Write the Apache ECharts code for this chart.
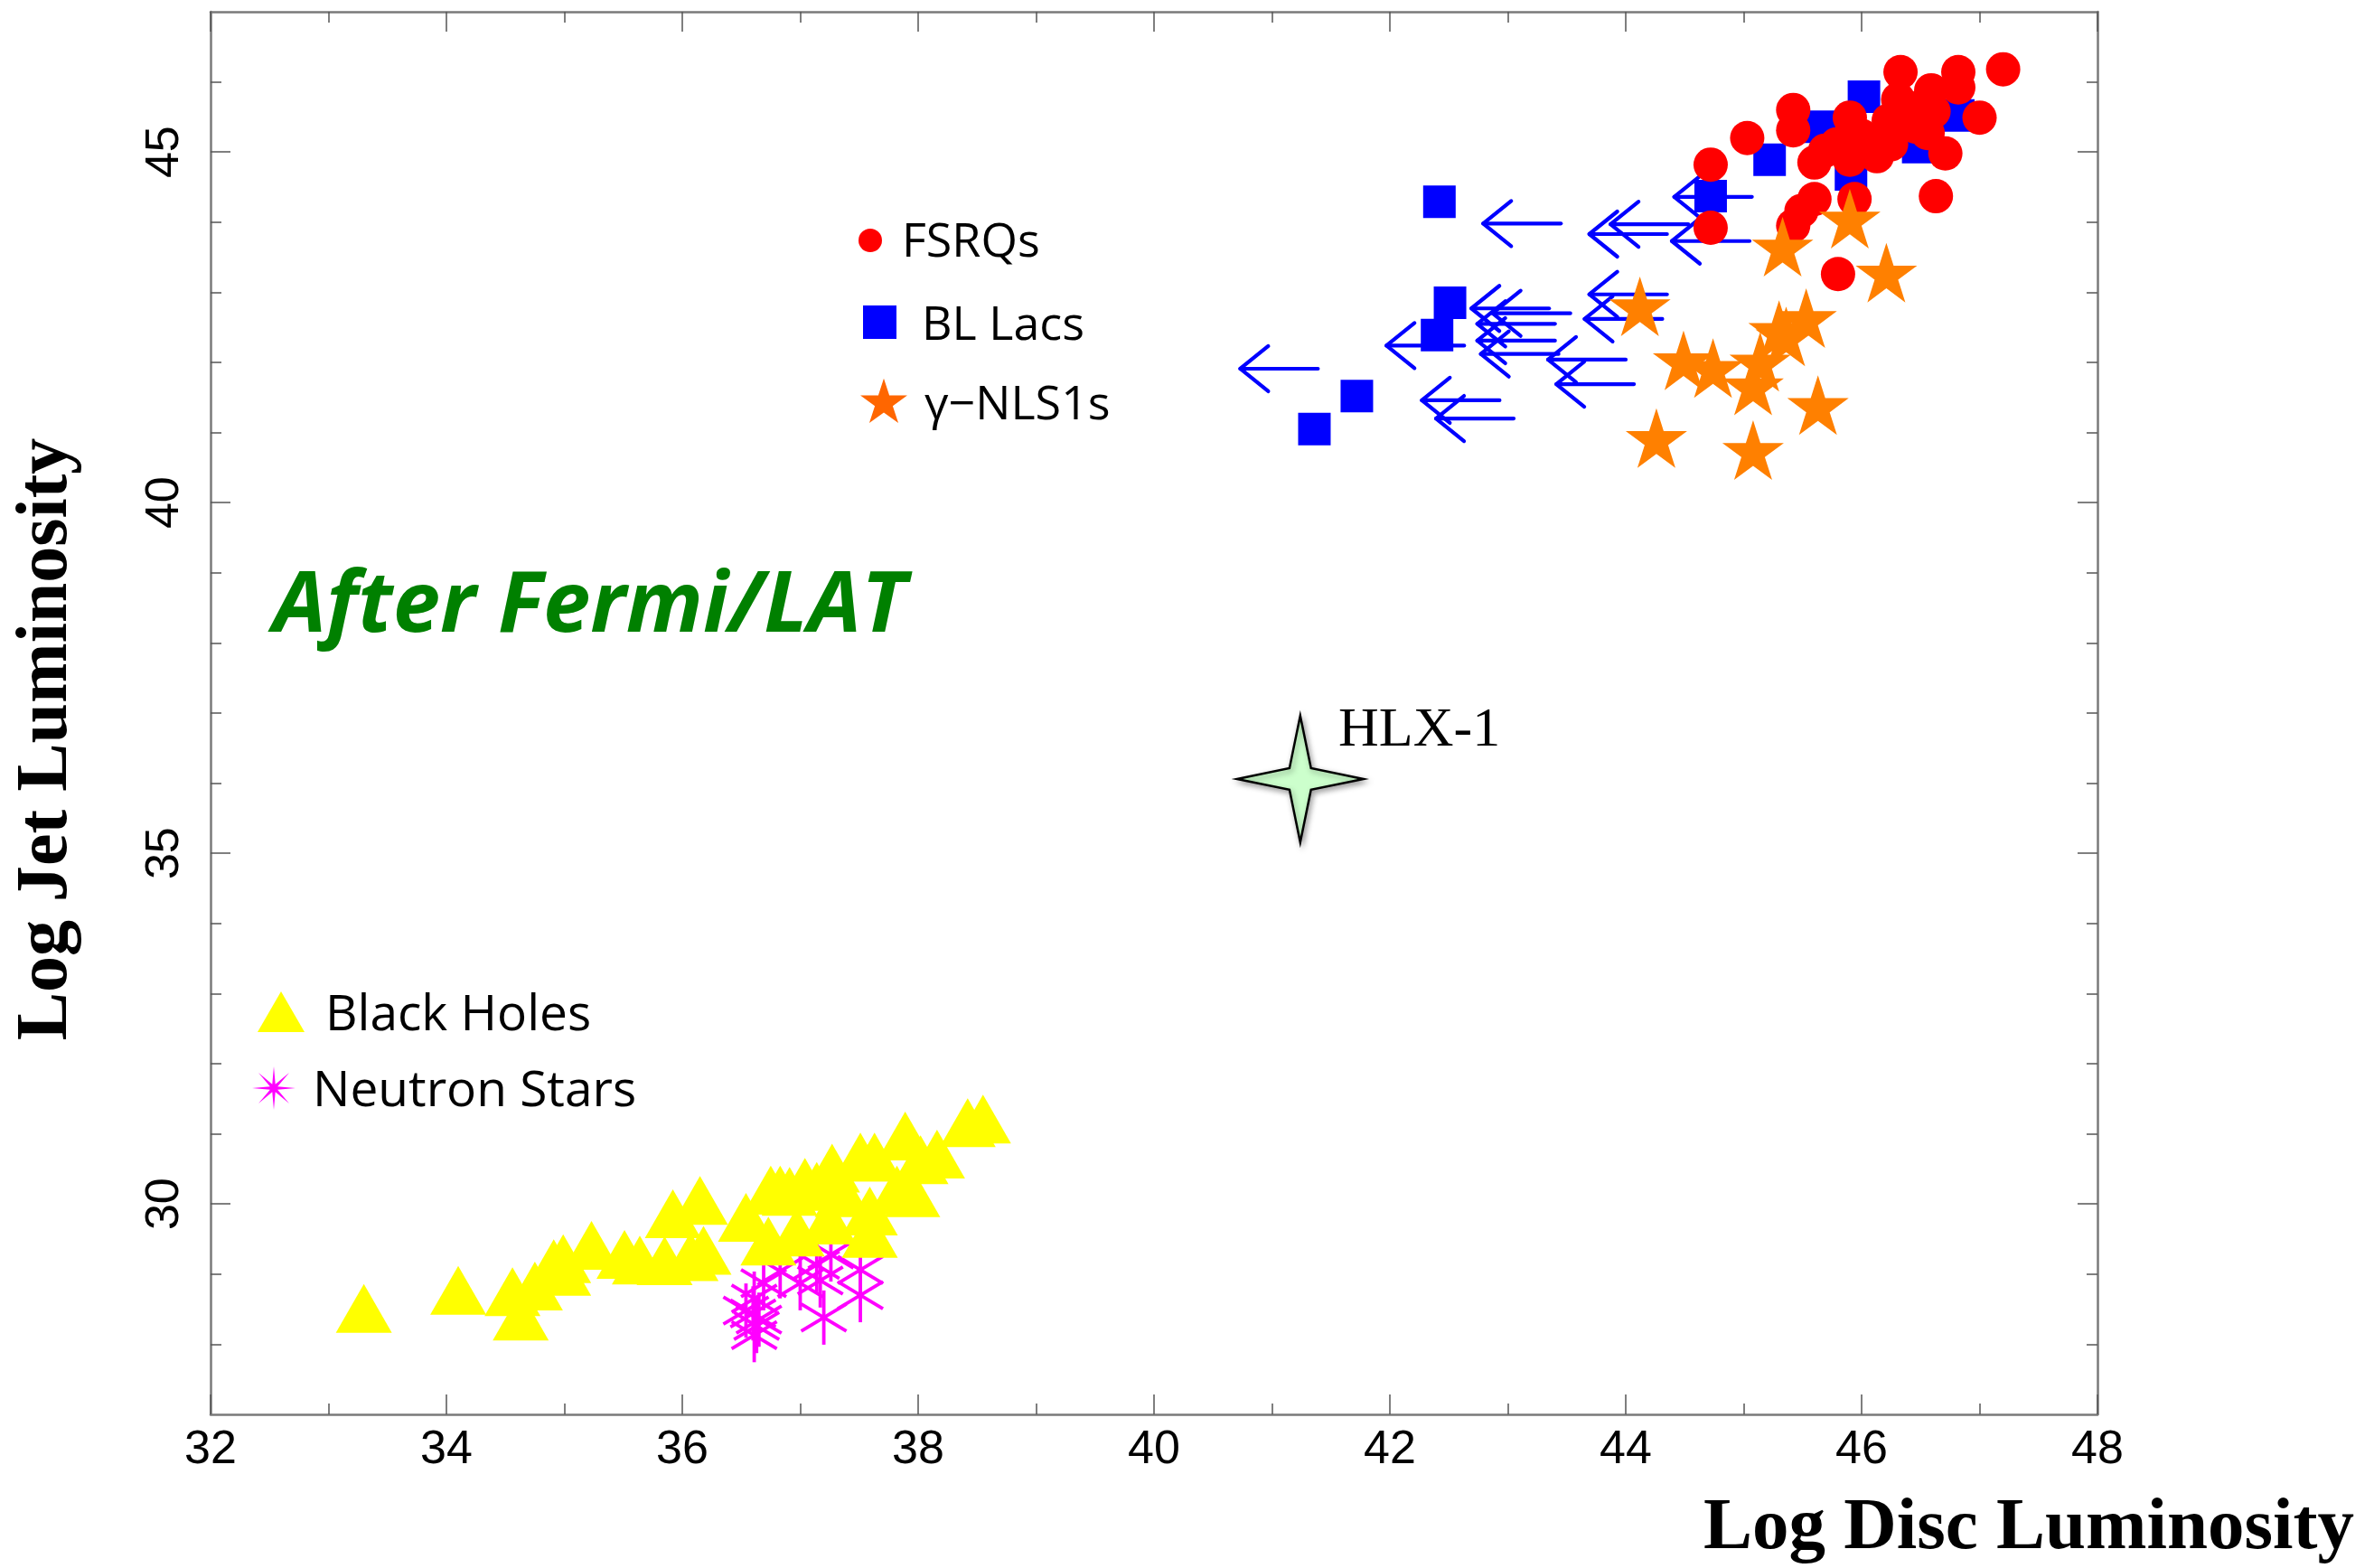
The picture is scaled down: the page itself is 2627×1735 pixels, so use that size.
<!DOCTYPE html>
<html>
<head>
<meta charset="utf-8">
<title>Log Jet Luminosity vs Log Disc Luminosity</title>
<script src="https://cdn.jsdelivr.net/npm/echarts@6/dist/echarts.min.js"></script>
<style>
  html, body { margin: 0; padding: 0; background: #ffffff; }
  #chart { width: 2627px; height: 1735px; }
</style>
</head>
<body>
<div id="chart"></div>
<script>
// [log L_disc, log L_jet] for each source class
const fsrqs = [
  [44.72, 44.82], [45.03, 45.20], [45.42, 45.60], [45.42, 45.31], [44.72, 43.92],
  [45.60, 44.85], [45.90, 45.49], [45.60, 44.33], [45.49, 44.16], [45.42, 43.95],
  [45.94, 44.33], [46.63, 44.37], [46.33, 46.14], [46.82, 46.14], [47.20, 46.18],
  [47.00, 45.49], [46.71, 44.98], [46.59, 45.88], [46.31, 45.75], [46.13, 45.14],
  [46.13, 44.94], [46.46, 45.36], [45.90, 44.89], [45.69, 45.02], [46.82, 45.92],
  [46.44, 45.62], [46.61, 45.58], [46.23, 45.45], [46.00, 45.23], [45.79, 45.11],
  [46.25, 45.11], [46.56, 45.27], [45.80, 43.26]
];
const blLacs = [
  [42.42, 44.29], [42.51, 42.85], [42.40, 42.39], [41.72, 41.52], [41.36, 41.05],
  [44.72, 44.37], [45.22, 44.89], [45.64, 45.36], [46.02, 45.79], [45.91, 44.68],
  [46.48, 45.07], [46.82, 45.52]
];
// BL Lacs with only an upper limit on the disc luminosity
const blLacLimits = [
  [43.45, 43.98], [44.35, 43.83], [44.53, 43.97], [45.05, 43.73], [45.07, 44.36],
  [44.35, 42.97], [44.31, 42.62], [44.00, 42.04], [44.07, 41.69], [43.35, 42.77],
  [43.53, 42.70], [43.40, 42.55], [43.40, 42.31], [43.43, 42.12], [42.63, 42.24],
  [41.39, 41.91], [42.93, 41.46], [43.05, 41.20]
];
const nls1s = [
  [44.12, 42.80], [44.49, 42.03], [44.74, 41.92], [45.08, 41.67], [45.14, 42.01],
  [45.30, 42.46], [45.36, 42.37], [45.53, 42.63], [45.63, 41.39], [44.26, 40.92],
  [45.08, 40.75], [45.33, 43.65], [45.90, 44.05], [46.21, 43.28]
];
const blackHoles = [
  [33.30, 28.51], [34.10, 28.77], [34.56, 28.75], [34.63, 28.40], [34.75, 28.83],
  [34.91, 29.15], [34.99, 29.22], [34.99, 29.04], [35.23, 29.41], [35.51, 29.28],
  [35.64, 29.20], [35.85, 29.19], [35.92, 29.86], [36.07, 29.25], [36.15, 30.05],
  [36.18, 29.34], [36.54, 29.81], [36.73, 29.47], [36.75, 30.20], [36.83, 30.20],
  [36.91, 30.18], [36.97, 29.60], [37.04, 30.31], [37.14, 30.25], [37.24, 29.77],
  [37.27, 30.51], [37.36, 30.16], [37.51, 30.67], [37.59, 29.58], [37.59, 29.90],
  [37.63, 30.67], [37.82, 30.20], [37.89, 30.97], [37.95, 30.16], [38.02, 30.63],
  [38.16, 30.71], [38.42, 31.16], [38.55, 31.21]
];
const neutronStars = [
  [37.20, 28.38], [37.51, 28.70], [37.51, 29.06], [37.26, 29.28], [37.14, 29.13],
  [37.00, 28.87], [36.83, 29.04], [36.69, 28.87], [36.61, 28.65], [36.60, 28.44],
  [36.63, 28.26], [36.61, 28.13], [36.54, 28.48], [37.17, 28.91], [36.65, 28.35]
];
const hlx1 = [[41.24, 36.06]];

// axis ranges and tick values
const xRange = [32, 48];
const yRange = [27, 47];
const yMajorTicks = [30, 35, 40, 45];
const yMinorTicks = [28, 29, 31, 32, 33, 34, 36, 37, 38, 39, 41, 42, 43, 44, 46];

const PENTAGRAM = 'path://M0,-1 L0.2245,-0.309 L0.951,-0.309 L0.363,0.118 L0.588,0.809 L0,0.382 L-0.588,0.809 L-0.363,0.118 L-0.951,-0.309 L-0.2245,-0.309 Z';
const FOUR_POINT = 'path://M0,-1 L0.17,-0.17 L1,0 L0.17,0.17 L0,1 L-0.17,0.17 L-1,0 L-0.17,-0.17 Z';

const AXIS_LINE = { show: true, onZero: false, lineStyle: { color: '#7a7a7a', width: 2.5 } };
const TICK_STYLE = { color: '#555555', width: 1.5 };

function starPoints(cx, cy, rOuter, rInner, n) {
  const pts = [];
  for (let i = 0; i < 2 * n; i++) {
    const r = i % 2 === 0 ? rOuter : rInner;
    const a = -Math.PI / 2 + i * Math.PI / n;
    pts.push([cx + r * Math.cos(a), cy + r * Math.sin(a)]);
  }
  return pts;
}

function xAxisDef(position, showLabel) {
  return {
    type: 'value', position: position, min: xRange[0], max: xRange[1], interval: 2,
    axisLine: AXIS_LINE,
    axisTick: { show: true, inside: true, length: 22, lineStyle: TICK_STYLE },
    minorTick: { show: true, splitNumber: 2, length: 12, lineStyle: TICK_STYLE },
    splitLine: { show: false }, minorSplitLine: { show: false },
    axisLabel: {
      show: showLabel, fontFamily: 'Liberation Sans', fontSize: 52, color: '#000', margin: 14
    }
  };
}

function yAxisDef(position, ticks, len, showLine, showLabel) {
  return {
    type: 'value', position: position, min: yRange[0], max: yRange[1], interval: 1,
    axisLine: showLine ? AXIS_LINE : { show: false },
    axisTick: { show: true, inside: true, length: len, lineStyle: TICK_STYLE, customValues: ticks },
    splitLine: { show: false },
    axisLabel: {
      show: showLabel, customValues: ticks, rotate: 90,
      fontFamily: 'Liberation Sans', fontSize: 52, color: '#000', margin: 24
    }
  };
}

function arrowItem(params, api) {
  const p = api.coord([api.value(0), api.value(1)]);
  const len = 86, hx = 31, hy = 25;
  const style = { stroke: '#0000ff', lineWidth: 4.2, fill: null, lineCap: 'round', lineJoin: 'round' };
  return {
    type: 'group',
    children: [
      { type: 'line', shape: { x1: p[0] - len, y1: p[1], x2: p[0], y2: p[1] }, style: style },
      { type: 'polyline', shape: { points: [[p[0] - len + hx, p[1] - hy], [p[0] - len, p[1]], [p[0] - len + hx, p[1] + hy]] }, style: style }
    ]
  };
}

function asteriskItem(params, api) {
  const p = api.coord([api.value(0), api.value(1)]);
  const style = { stroke: '#ff00ff', lineWidth: 3.8, fill: null };
  return {
    type: 'group',
    children: [
      { type: 'line', shape: { x1: p[0], y1: p[1] - 30, x2: p[0], y2: p[1] + 30 }, style: style },
      { type: 'line', shape: { x1: p[0] - 25, y1: p[1] - 15, x2: p[0] + 25, y2: p[1] + 15 }, style: style },
      { type: 'line', shape: { x1: p[0] - 25, y1: p[1] + 15, x2: p[0] + 25, y2: p[1] - 15 }, style: style }
    ]
  };
}

const chart = echarts.init(document.getElementById('chart'), null, { renderer: 'canvas' });

const legendFont = '"Open Sans", "Noto Sans", sans-serif';

chart.setOption({
  backgroundColor: '#ffffff',
  animation: false,
  grid: { left: 233, right: 306, top: 13, bottom: 170, containLabel: false },
  xAxis: [xAxisDef('bottom', true), xAxisDef('top', false)],
  yAxis: [
    yAxisDef('left', yMajorTicks, 22, true, true),
    yAxisDef('left', yMinorTicks, 12, false, false),
    yAxisDef('right', yMajorTicks, 22, true, false),
    yAxisDef('right', yMinorTicks, 12, false, false)
  ],
  series: [
    {
      name: 'BL Lacs', type: 'scatter', data: blLacs,
      symbol: 'rect', symbolSize: 36,
      itemStyle: { color: '#0000ff', opacity: 1 }
    },
    {
      name: 'BL Lacs (upper limits)', type: 'custom', data: blLacLimits,
      renderItem: arrowItem
    },
    {
      name: 'FSRQs', type: 'scatter', data: fsrqs,
      symbol: 'circle', symbolSize: 38,
      itemStyle: { color: '#ff0000', opacity: 1 }
    },
    {
      name: 'γ−NLS1s', type: 'scatter', data: nls1s,
      symbol: PENTAGRAM, symbolSize: [68, 66],
      itemStyle: { color: '#ff8000', opacity: 1 }
    },
    {
      name: 'Black Holes', type: 'scatter', data: blackHoles,
      symbol: 'triangle', symbolSize: [62, 54],
      itemStyle: { color: '#ffff00', opacity: 1 }
    },
    {
      name: 'Neutron Stars', type: 'custom', data: neutronStars,
      renderItem: asteriskItem
    },
    {
      name: 'HLX-1', type: 'scatter', data: hlx1,
      symbol: FOUR_POINT, symbolSize: 140,
      itemStyle: {
        color: '#ccffcc', borderColor: '#000000', borderWidth: 2.5, opacity: 1,
        shadowBlur: 6, shadowColor: 'rgba(0,0,0,0.35)', shadowOffsetX: 2, shadowOffsetY: 3
      },
      label: {
        show: true, formatter: 'HLX-1', position: 'right', distance: 5, offset: [-34, -53],
        fontFamily: 'Liberation Serif', fontSize: 62, color: '#000000'
      }
    }
  ],
  graphic: [
    // legend: blazars and NLS1s
    { type: 'circle', shape: { cx: 963, cy: 266, r: 13 }, style: { fill: '#ff0000' } },
    { type: 'text', x: 998, y: 269, style: { text: 'FSRQs', font: '52px ' + legendFont, fill: '#000', verticalAlign: 'middle' } },
    { type: 'rect', shape: { x: 955, y: 338, width: 37, height: 37 }, style: { fill: '#0000ff' } },
    { type: 'text', x: 1020, y: 361, style: { text: 'BL Lacs', font: '52px ' + legendFont, fill: '#000', verticalAlign: 'middle' } },
    { type: 'polygon', shape: { points: starPoints(978, 446, 27.3, 10.4, 5) }, style: { fill: '#ff6600' } },
    { type: 'text', x: 1023, y: 449, style: { text: 'γ−NLS1s', font: '52px ' + legendFont, fill: '#000', verticalAlign: 'middle' } },
    // legend: X-ray binaries
    { type: 'polygon', shape: { points: [[311, 1097], [285, 1142], [337, 1142]] }, style: { fill: '#ffff00' } },
    { type: 'text', x: 360, y: 1124, style: { text: 'Black Holes', font: '55px ' + legendFont, fill: '#000', verticalAlign: 'middle' } },
    { type: 'polygon', shape: { points: starPoints(303, 1204, 24, 4.5, 8) }, style: { fill: '#ff00ff' } },
    { type: 'text', x: 346, y: 1208, style: { text: 'Neutron Stars', font: '55px ' + legendFont, fill: '#000', verticalAlign: 'middle' } },
    // annotation
    { type: 'text', x: 302, y: 672, style: { text: 'After Fermi/LAT', font: 'italic bold 94px ' + legendFont, fill: '#008000', verticalAlign: 'middle' } },
    // axis titles
    { type: 'text', x: 52, y: 818, rotation: Math.PI / 2, style: { text: 'Log Jet Luminosity', font: 'bold 80px "Liberation Serif"', fill: '#000', align: 'center', verticalAlign: 'middle' } },
    { type: 'text', x: 2605, y: 1692, style: { text: 'Log Disc Luminosity', font: 'bold 81px "Liberation Serif"', fill: '#000', align: 'right', verticalAlign: 'middle' } }
  ]
});
</script>
</body>
</html>
